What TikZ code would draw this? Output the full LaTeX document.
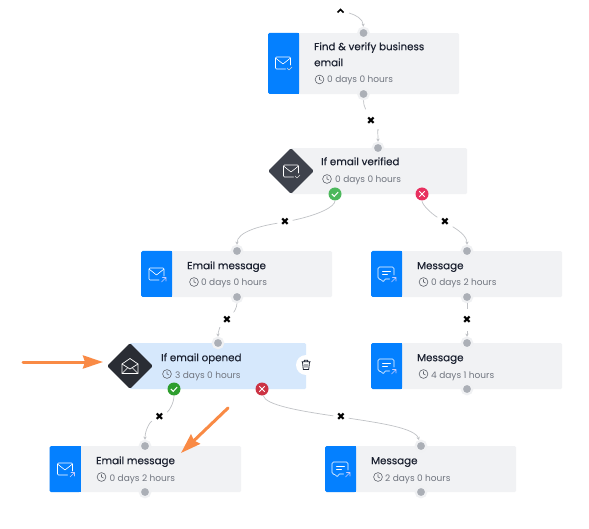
\documentclass[tikz,border=0pt]{standalone}
\usepackage{fontspec}
\setmainfont{Poppins}
\newfontfamily\titlefont[FakeBold=0.35]{Poppins}
\newfontfamily\symfont{DejaVu Sans}
\usetikzlibrary{arrows.meta}
\definecolor{panel}{HTML}{F1F2F4}
\definecolor{panelsel}{HTML}{D6E8FC}
\definecolor{actblue}{HTML}{0480FF}
\definecolor{slate}{HTML}{3E424C}
\definecolor{slatedark}{HTML}{2A2D34}
\definecolor{portc}{HTML}{ABAFB6}
\definecolor{ringc}{HTML}{F0F1F3}
\definecolor{linec}{HTML}{C0C2C6}
\definecolor{titlec}{HTML}{1B2130}
\definecolor{timec}{HTML}{70757F}
\definecolor{orangec}{HTML}{F98A45}
\definecolor{yesa}{HTML}{4CB85C}
\definecolor{yesb}{HTML}{2E9E2E}
\definecolor{noa}{HTML}{E8305F}
\definecolor{nob}{HTML}{CC3344}
\tikzset{
  x=1pt,y=-1pt,
  panelbox/.style={anchor=north west,inner sep=0,minimum height=46pt,rounded corners=1.5pt},
  title/.style={anchor=base west,inner sep=0,yshift=.8pt,font=\titlefont\fontsize{10.3}{12}\selectfont,text=titlec},
  timetxt/.style={anchor=base west,inner sep=0,font=\fontsize{9}{11}\selectfont,text=timec},
  port/.style={circle,fill=portc,draw=ringc,line width=2.2pt,inner sep=0,minimum size=10.5pt},
  xmark/.style={fill=white,inner sep=0,minimum width=15pt,minimum height=22pt,font=\symfont\fontsize{10.5}{10.5}\selectfont,text=black},
  conn/.style={draw=linec,line width=.7pt,-{Stealth[length=3pt,width=3.2pt]}},
  connplain/.style={draw=linec,line width=.7pt},
  badge/.style={circle,inner sep=0,minimum size=13pt},
  callout/.style={draw=orangec,line width=3pt,line cap=round,-{Stealth[length=20pt,width=13pt,inset=2pt,fill=orangec]}},
  ico/.style={draw=white,line width=.6pt,line join=round,line cap=round},
  clock/.pic={\draw[timec!85!black,line width=.6pt] (0,0) circle (4.4);
    \draw[timec!85!black,line width=.6pt] (0,-2.7)--(0,0)--(2,1);},
  mailcheck/.pic={
    \draw[ico,rounded corners=1pt] (2.5,6)--(-7.5,6)--(-7.5,-6)--(7.5,-6)--(7.5,2);
    \draw[ico] (-7.5,-5)--(0,1)--(7.5,-5);
    \draw[ico,white!70!gray] (4,5)--(6,7)--(9,4);},
  mailarrow/.pic={
    \draw[ico,rounded corners=1pt] (2.5,6)--(-7.5,6)--(-7.5,-6)--(7.5,-6)--(7.5,2);
    \draw[ico] (-7.5,-5)--(0,1)--(7.5,-5);
    \draw[ico,white!80!blue] (5,8)--(9.5,3.5) (6,3.5)--(9.5,3.5)--(9.5,7);},
  chatarrow/.pic={
    \draw[ico,rounded corners=1.5pt] (3,5)--(-2.5,5)--(-2.5,8.5)--(-6,5)--(-8.5,5)--(-8.5,-7)--(7.5,-7)--(7.5,1);
    \draw[ico] (-4,-3)--(4,-3) (-4,0)--(1,0);
    \draw[ico,white!80!blue] (5,8)--(9.5,3.5) (6,3.5)--(9.5,3.5)--(9.5,7);},
  mailopen/.pic={
    \draw[ico,line width=.7pt] (-8,-2)--(0,-7.5)--(8,-2)--(8,7.5)--(-8,7.5)--cycle;
    \draw[ico,line width=.7pt] (-8,-2)--(0,3)--(8,-2);
    \draw[ico,line width=.7pt] (-8,7.5)--(-2.5,2) (8,7.5)--(2.5,2);},
}
\newcommand{\bluepart}[3]{% x, y, height
  \fill[actblue,rounded corners=1.5pt] (#1,#2) rectangle (#1+31,#2+#3);
  \fill[actblue] (#1+25,#2) rectangle (#1+31,#2+#3);}
\begin{document}
\begin{tikzpicture}
\useasboundingbox (0,0) rectangle (589,529);
\fill[white] (0,0) rectangle (589,529);

% panels
\node[panelbox,fill=panel,minimum width=191pt,minimum height=61pt] (find) at (268,33) {};
\bluepart{268}{33}{61}
\pic at (283,63) {mailcheck};
\node[title] (findt1) at (314,51) {Find \& verify business};
\node[title] (findt2) at (314,67) {email};
\pic at (319.5,79.5) {clock};
\node[timetxt] (findt) at (327,83) {0 days 0 hours};

\node[panelbox,fill=panel,minimum width=177pt] (ver) at (290,148) {};
\node[fill=slate,rotate=45,minimum size=32.5pt,inner sep=0,rounded corners=1.5pt] (verd) at (291,171) {};
\pic at (291,171) {mailcheck};
\node[title] (vert) at (321,166) {If email verified};
\pic at (327,179) {clock};
\node[timetxt] (vertt) at (335,183) {0 days 0 hours};

\node[panelbox,fill=panel,minimum width=191pt] (em1) at (141,251) {};
\bluepart{141}{251}{46}
\pic at (156.5,274) {mailarrow};
\node[title] (em1t) at (187,270) {Email message};
\pic at (194,282) {clock};
\node[timetxt] (em1tt) at (201,286) {0 days 0 hours};

\node[panelbox,fill=panel,minimum width=191pt] (ms1) at (371,251) {};
\bluepart{371}{251}{46}
\pic at (386.5,274) {chatarrow};
\node[title] (ms1t) at (417,270) {Message};
\pic at (423.5,282) {clock};
\node[timetxt] (ms1tt) at (431,286) {0 days 2 hours};

\node[panelbox,fill=panel,minimum width=191pt] (ms2) at (371,343) {};
\bluepart{371}{343}{46}
\pic at (386.5,366) {chatarrow};
\node[title] (ms2t) at (417,362) {Message};
\pic at (423.5,374) {clock};
\node[timetxt] (ms2tt) at (431,378) {4 days 1 hours};

\node[panelbox,fill=panelsel,minimum width=177pt] (opn) at (129,343) {};
\node[fill=slatedark,rotate=45,minimum size=32.5pt,inner sep=0,rounded corners=1.5pt] (opnd) at (130,366) {};
\pic at (130,366) {mailopen};
\node[title] (opnt) at (161,362) {If email opened};
\pic at (167,374) {clock};
\node[timetxt] (opntt) at (175,378) {3 days 0 hours};
\node[circle,fill=white,minimum size=20pt,inner sep=0] (trash) at (306,365) {};
\draw[titlec,line width=.8pt,line join=round] (302.5,362)--(303.3,369.5)--(308.7,369.5)--(309.5,362) (301.5,361.8)--(310.5,361.8) (304.3,361.5)--(304.3,360.3)--(307.7,360.3)--(307.7,361.5) (305,364)--(305,367.5) (307,364)--(307,367.5);

\node[panelbox,fill=panel,minimum width=191.5pt] (em2) at (49.5,446) {};
\bluepart{49.5}{446}{46}
\pic at (65,469) {mailarrow};
\node[title] (em2t) at (96,465) {Email message};
\pic at (101.5,477) {clock};
\node[timetxt] (em2tt) at (109.5,481) {0 days 2 hours};

\node[panelbox,fill=panel,minimum width=191pt] (ms3) at (325,446) {};
\bluepart{325}{446}{46}
\pic at (340.5,469) {chatarrow};
\node[title] (ms3t) at (371,465) {Message};
\pic at (378,477) {clock};
\node[timetxt] (ms3tt) at (385,481) {2 days 0 hours};

% ports
\node[port] (pfindT) at (363.5,33) {};
\node[port] (pfindB) at (363.5,94) {};
\node[port] (pverT) at (378,148) {};
\node[port] (pem1T) at (237,251) {};
\node[port] (pem1B) at (237,297) {};
\node[port] (pms1T) at (467,251) {};
\node[port] (pms1B) at (467,297) {};
\node[port] (pms2T) at (467,343) {};
\node[port] (pms2B) at (467,389) {};
\node[port] (popnT) at (218,343) {};
\node[port] (pem2T) at (145,446) {};
\node[port] (pem2B) at (145,492) {};
\node[port] (pms3T) at (421,446) {};
\node[port] (pms3B) at (421,492) {};

% badges
\node[badge,fill=yesa] (vyes) at (335,194) {};
\draw[white,line width=1pt] (331.8,194)--(334.2,196.4)--(338.2,192);
\node[badge,fill=noa] (vno) at (422,194) {};
\draw[white,line width=1pt] (419.3,191.3)--(424.7,196.7) (419.3,196.7)--(424.7,191.3);
\node[badge,fill=yesb] (oyes) at (174,389) {};
\draw[white,line width=1pt] (170.8,389)--(173.2,391.4)--(177.2,387);
\node[badge,fill=nob] (ono) at (262,389) {};
\draw[white,line width=1pt] (259.3,386.3)--(264.7,391.7) (259.3,391.7)--(264.7,386.3);

% x marks
\node[xmark] (x1) at (371,120.5) {✖};
\node[xmark] (x2) at (285,222) {✖};
\node[xmark] (x3) at (445,222) {✖};
\node[xmark] (x4) at (227,320) {✖};
\node[xmark] (x5) at (467,320) {✖};
\node[xmark] (x6) at (159.5,417) {✖};
\node[xmark] (x7) at (341,417) {✖};
\coordinate (topstart) at (349,13);
\draw[black,line width=1.6pt] (337.5,12.5)--(340.5,9.5)--(343.5,12.5);

% connectors
\draw[conn] (topstart) .. controls (356,15) and (363,19) .. (pfindT);
\draw[connplain] (pfindB) .. controls (363.5,103) and (364,106) .. (x1);
\draw[conn] (x1) .. controls (377,128) and (378,132) .. (pverT);
\draw[connplain] (vyes) .. controls (335,207) and (318,215) .. (x2);
\draw[conn] (x2) .. controls (260,226) and (237,232) .. (pem1T);
\draw[connplain] (vno) .. controls (422,205) and (432,214) .. (x3);
\draw[conn] (x3) .. controls (458,230) and (467,236) .. (pms1T);
\draw[connplain] (pem1B) .. controls (237,308) and (233,313) .. (x4);
\draw[conn] (x4) .. controls (221,326) and (218,331) .. (popnT);
\draw[connplain] (pms1B) -- (x5);
\draw[conn] (x5) -- (pms2T);
\draw[connplain] (oyes) .. controls (174,403) and (169,411) .. (x6);
\draw[conn] (x6) .. controls (150,422) and (145,430) .. (pem2T);
\draw[connplain] (ono) .. controls (265,405) and (300,411) .. (x7);
\draw[conn] (x7) .. controls (380,423) and (415,428) .. (pms3T);

% callouts
\coordinate (a1s) at (23,362);
\coordinate (a1e) at (103,362);
\coordinate (a2s) at (228,408);
\coordinate (a2e) at (181,453);
\draw[callout] (a1s) -- (a1e);
\draw[callout] (a2s) -- (a2e);
\end{tikzpicture}
\end{document}
